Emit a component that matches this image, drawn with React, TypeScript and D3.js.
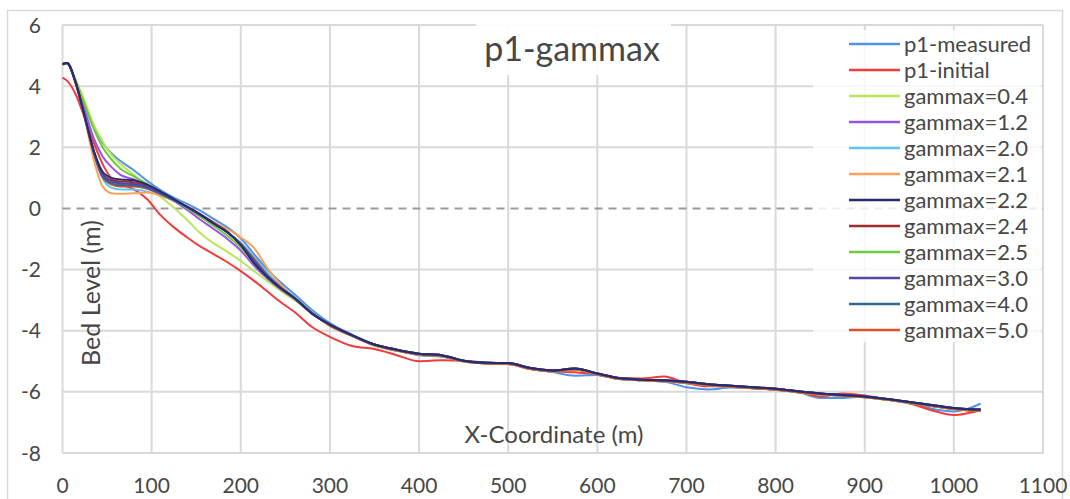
import React from "react";
import * as d3 from "d3";

// Cross-shore profile p1: bed level along the x-coordinate, for several gammax values
const headX = [0, 5, 15, 25, 35, 45, 55, 65, 80, 95, 110, 125, 140, 155, 170, 185, 200, 215, 230, 245, 260, 280];
const tailX = [300, 325, 350, 375, 400, 425, 450, 475, 500, 525, 550, 575, 600, 625, 650, 675, 700, 725, 750, 775, 800, 825, 850, 875, 900, 925, 950, 975, 1000, 1015, 1030];

const measuredHead = [4.7, 4.73, 4.15, 3.35, 2.65, 2.15, 1.8, 1.55, 1.25, 0.9, 0.6, 0.35, 0.15, -0.08, -0.35, -0.62, -0.98, -1.5, -2.0, -2.42, -2.8, -3.32];
const measuredTail = [-3.75, -4.13, -4.45, -4.63, -4.8, -4.85, -4.98, -5.04, -5.07, -5.22, -5.35, -5.47, -5.45, -5.55, -5.6, -5.66, -5.85, -5.92, -5.86, -5.86, -5.9, -6.0, -6.2, -6.2, -6.15, -6.25, -6.35, -6.55, -6.64, -6.56, -6.38];

const initialHead = [4.28, 4.18, 3.72, 2.95, 2.15, 1.45, 0.98, 0.8, 0.62, 0.3, -0.22, -0.62, -0.95, -1.25, -1.5, -1.76, -2.05, -2.37, -2.72, -3.07, -3.38, -3.88];
const initialTail = [-4.2, -4.5, -4.6, -4.8, -5.0, -4.97, -4.98, -5.05, -5.08, -5.25, -5.33, -5.36, -5.42, -5.55, -5.56, -5.5, -5.72, -5.82, -5.82, -5.86, -5.9, -6.0, -6.15, -6.05, -6.12, -6.25, -6.38, -6.6, -6.76, -6.7, -6.6];

const g04Head = [4.72, 4.75, 4.2, 3.5, 2.75, 2.2, 1.75, 1.45, 1.1, 0.72, 0.38, 0.02, -0.38, -0.82, -1.15, -1.42, -1.72, -2.05, -2.38, -2.7, -3.0, -3.42];
const g12Head = [4.72, 4.75, 4.1, 3.2, 2.3, 1.7, 1.35, 1.1, 0.95, 0.75, 0.5, 0.25, -0.05, -0.38, -0.68, -1.0, -1.38, -1.88, -2.3, -2.65, -2.95, -3.42];
const g20Head = [4.72, 4.75, 4.08, 3.0, 1.8, 0.98, 0.68, 0.62, 0.62, 0.55, 0.42, 0.25, 0.02, -0.25, -0.5, -0.8, -1.12, -1.6, -2.1, -2.55, -2.9, -3.4];
const g21Head = [4.72, 4.75, 4.05, 2.95, 1.6, 0.72, 0.5, 0.48, 0.5, 0.52, 0.42, 0.25, 0.05, -0.2, -0.45, -0.68, -0.95, -1.3, -1.95, -2.5, -2.92, -3.4];
const g22Head = [4.72, 4.76, 4.1, 3.0, 1.9, 1.2, 1.0, 0.95, 0.92, 0.78, 0.55, 0.3, 0.05, -0.2, -0.5, -0.78, -1.2, -1.8, -2.25, -2.62, -2.93, -3.45];
const g24Head = [4.72, 4.76, 4.1, 2.98, 1.85, 1.12, 0.92, 0.88, 0.86, 0.74, 0.53, 0.3, 0.05, -0.2, -0.48, -0.76, -1.18, -1.75, -2.22, -2.6, -2.92, -3.43];
const g25Head = [4.72, 4.75, 4.15, 3.4, 2.6, 2.0, 1.6, 1.3, 1.05, 0.8, 0.52, 0.27, 0.0, -0.28, -0.58, -0.9, -1.28, -1.8, -2.25, -2.62, -2.93, -3.43];
const g30Head = [4.72, 4.76, 4.1, 3.0, 1.88, 1.1, 0.88, 0.82, 0.8, 0.7, 0.5, 0.28, 0.04, -0.22, -0.5, -0.78, -1.18, -1.72, -2.22, -2.6, -2.92, -3.43];
const g40Head = [4.72, 4.76, 4.1, 3.0, 1.85, 1.05, 0.82, 0.76, 0.75, 0.67, 0.48, 0.27, 0.04, -0.22, -0.5, -0.78, -1.17, -1.7, -2.2, -2.6, -2.92, -3.43];
const g50Head = [4.72, 4.76, 4.08, 2.98, 1.82, 1.02, 0.78, 0.72, 0.72, 0.64, 0.47, 0.26, 0.04, -0.22, -0.5, -0.78, -1.15, -1.65, -2.18, -2.58, -2.92, -3.43];

// offshore part, where the model runs nearly coincide
const simTailA = [-3.8, -4.15, -4.45, -4.62, -4.75, -4.8, -4.98, -5.05, -5.06, -5.22, -5.3, -5.24, -5.4, -5.55, -5.6, -5.62, -5.67, -5.75, -5.8, -5.85, -5.9, -5.98, -6.05, -6.1, -6.15, -6.23, -6.33, -6.43, -6.53, -6.56, -6.58];
const simTailB = [-3.83, -4.17, -4.48, -4.65, -4.78, -4.83, -5.0, -5.07, -5.09, -5.25, -5.33, -5.27, -5.43, -5.58, -5.62, -5.65, -5.7, -5.78, -5.83, -5.88, -5.93, -6.01, -6.08, -6.13, -6.18, -6.26, -6.36, -6.46, -6.56, -6.6, -6.62];

const seriesNames = ["p1-measured", "p1-initial", "gammax=0.4", "gammax=1.2", "gammax=2.0", "gammax=2.1", "gammax=2.2", "gammax=2.4", "gammax=2.5", "gammax=3.0", "gammax=4.0", "gammax=5.0"];
const seriesColors = ["#4f94e6", "#f03c3c", "#b8e65a", "#9b50e0", "#5cc8f2", "#f7a35c", "#262b6e", "#a3292e", "#6ccc3a", "#5447a8", "#2f6a8f", "#e0502c"];
const seriesValues = [
  measuredHead.concat(measuredTail),
  initialHead.concat(initialTail),
  g04Head.concat(simTailB),
  g12Head.concat(simTailB),
  g20Head.concat(simTailB),
  g21Head.concat(simTailB),
  g22Head.concat(simTailA),
  g24Head.concat(simTailA),
  g25Head.concat(simTailB),
  g30Head.concat(simTailA),
  g40Head.concat(simTailA),
  g50Head.concat(simTailB),
];

const xTicks = [0, 100, 200, 300, 400, 500, 600, 700, 800, 900, 1000, 1100];
const yTicks = [6, 4, 2, 0, -2, -4, -6, -8];

const FONT = "Lato, 'Open Sans', sans-serif";
const TEXT = "#474747";

export default function App() {
  const W = 1070;
  const H = 499;
  const x = d3.scaleLinear().domain([0, 1100]).range([62.5, 1043]);
  const y = d3.scaleLinear().domain([-8, 6]).range([453, 25]);
  const xs = headX.concat(tailX);

  const line = d3
    .line<number>()
    .x((_, i) => x(xs[i]))
    .y((v) => y(v))
    .curve(d3.curveMonotoneX);

  const legendX = 813;
  const legendY = 30;
  const rowH = 26;

  // dark runs drawn last so they sit on top offshore
  const drawOrder = [0, 1, 2, 3, 4, 5, 8, 11, 7, 10, 9, 6];

  return (
    <svg
      width={W}
      height={H}
      style={{ position: "absolute", left: 0, top: 0, background: "#fff" }}
      fontFamily={FONT}
    >
      <rect x={0} y={0} width={W} height={H} fill="#fff" />
      <rect x={7.5} y={10.5} width={1055} height={500} fill="none" stroke="#d9d9d9" strokeWidth={1.5} />

      {/* grid */}
      {xTicks.map((t) => (
        <line key={"gx" + t} x1={x(t)} x2={x(t)} y1={y(6)} y2={y(-8)} stroke="#d9d9d9" strokeWidth={2} />
      ))}
      {yTicks.map((t) =>
        t === 0 ? null : (
          <line key={"gy" + t} x1={x(0)} x2={x(1100)} y1={y(t)} y2={y(t)} stroke="#d9d9d9" strokeWidth={2} />
        )
      )}
      <line x1={x(0)} x2={x(1100)} y1={y(0)} y2={y(0)} stroke="#9a9a9a" strokeWidth={2} strokeDasharray="8 6" />

      {/* tick labels */}
      {xTicks.map((t) => (
        <text key={"tx" + t} x={x(t)} y={493} textAnchor="middle" fontSize={21} fill={TEXT}>
          {t}
        </text>
      ))}
      {yTicks.map((t) => (
        <text key={"ty" + t} x={41} y={y(t) + 7.5} textAnchor="end" fontSize={21} fill={TEXT}>
          {t}
        </text>
      ))}

      {/* profiles */}
      {drawOrder.map((i) => (
        <path key={"s" + i} d={line(seriesValues[i]) || ""} fill="none" stroke={seriesColors[i]} strokeWidth={2} strokeLinejoin="round" />
      ))}

      {/* axis titles */}
      <text x={554} y={443} textAnchor="middle" fontSize={24} fill={TEXT}>
        X-Coordinate (m)
      </text>
      <text transform="translate(100,293) rotate(-90)" textAnchor="middle" fontSize={25} fill={TEXT}>
        Bed Level (m)
      </text>

      {/* legend */}
      <rect x={legendX} y={legendY} width={228} height={312} fill="#fff" fillOpacity={0.82} />
      {seriesNames.map((name, i) => {
        const cy = 44 + i * rowH;
        return (
          <g key={"lg" + i}>
            <line x1={849} x2={900} y1={cy} y2={cy} stroke={seriesColors[i]} strokeWidth={2.5} />
            <text x={904} y={cy + 7.5} fontSize={22} fill={TEXT}>
              {name}
            </text>
          </g>
        );
      })}

      {/* title */}
      <rect x={476} y={24} width={195} height={51} fill="#fff" fillOpacity={0.9} />
      <text x={572} y={61} textAnchor="middle" fontSize={34} fill={TEXT}>
        p1-gammax
      </text>
    </svg>
  );
}
